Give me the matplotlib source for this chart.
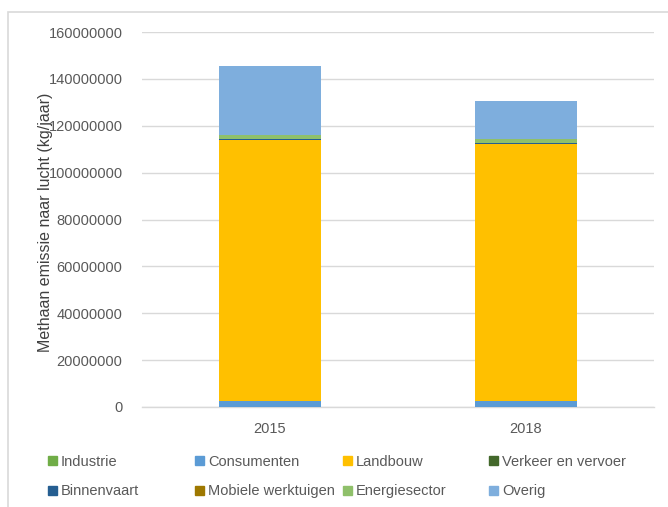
import matplotlib.pyplot as plt
import numpy as np
from matplotlib.patches import Rectangle, Patch

plt.rcParams["font.family"] = ["Liberation Sans", "DejaVu Sans"]

years = ["2015", "2018"]
series = ["Industrie", "Consumenten", "Landbouw", "Verkeer en vervoer",
          "Binnenvaart", "Mobiele werktuigen", "Energiesector", "Overig"]

# kg/jaar
industrie = [0.1e6, 0.1e6]
consumenten = [2.6e6, 2.6e6]
landbouw = [111.2e6, 109.5e6]
verkeer = [0.2e6, 0.2e6]
binnenvaart = [0.05e6, 0.05e6]
mobiel = [0.4e6, 0.4e6]
energie = [1.4e6, 1.5e6]
overig = [29.6e6, 16.3e6]

values = [industrie, consumenten, landbouw, verkeer,
          binnenvaart, mobiel, energie, overig]
colors = ["#70AD47", "#5B9BD5", "#FFC000", "#43682B",
          "#255E91", "#9E7800", "#8FC06A", "#7EAEDD"]

W, H = 668, 507
fig = plt.figure(figsize=(W / 100, H / 100), dpi=100)

# light border round the chart area
fig.patches.append(Rectangle((8 / W, -0.1), 1.2, (H - 12) / H + 0.1,
                             transform=fig.transFigure, fill=False,
                             edgecolor="#d9d9d9", linewidth=1.2))

ax = fig.add_axes([142 / W, (H - 407) / H, 512 / W, 375 / H])

x = np.arange(len(years))
bottom = np.zeros(len(years))
for name, vals, c in zip(series, values, colors):
    ax.bar(x, vals, width=0.4, bottom=bottom, color=c, label=name, zorder=3)
    bottom += np.array(vals)

ax.set_xlim(-0.5, 1.5)
ax.set_ylim(0, 160000000)
ax.set_yticks(np.arange(0, 160000001, 20000000))
ax.yaxis.set_major_formatter(plt.FuncFormatter(lambda v, p: f"{int(v)}"))
ax.set_xticks(x)
ax.set_xticklabels(years)
ax.tick_params(axis="both", length=0, labelsize=10.5, colors="#595959")
ax.tick_params(axis="y", pad=14)
ax.tick_params(axis="x", pad=11)
ax.grid(axis="y", color="#d9d9d9", linewidth=1, zorder=0)
for s in ["top", "right", "left"]:
    ax.spines[s].set_visible(False)
ax.spines["bottom"].set_color("#d9d9d9")
ax.spines["bottom"].set_linewidth(1)

fig.text(46 / W, 1 - 222 / H, "Methaan emissie naar lucht (kg/jaar)",
         rotation=90, ha="center", va="center", fontsize=11.5, color="#404040")

# legend: 4 columns, 2 rows, filled row by row
col_x = [48, 195, 343, 489]
for i, cx in enumerate(col_x):
    handles = [Patch(color=colors[i]), Patch(color=colors[i + 4])]
    labels = [series[i], series[i + 4]]
    fig.legend(handles, labels, loc="upper left",
               bbox_to_anchor=(cx / W, 1 - 455 / H), frameon=False,
               handlelength=0.6, handleheight=0.6, handletextpad=0.3,
               labelspacing=1.05, fontsize=10.5, labelcolor="#595959",
               borderpad=0, borderaxespad=0)

fig.savefig("out.png", dpi=100)
